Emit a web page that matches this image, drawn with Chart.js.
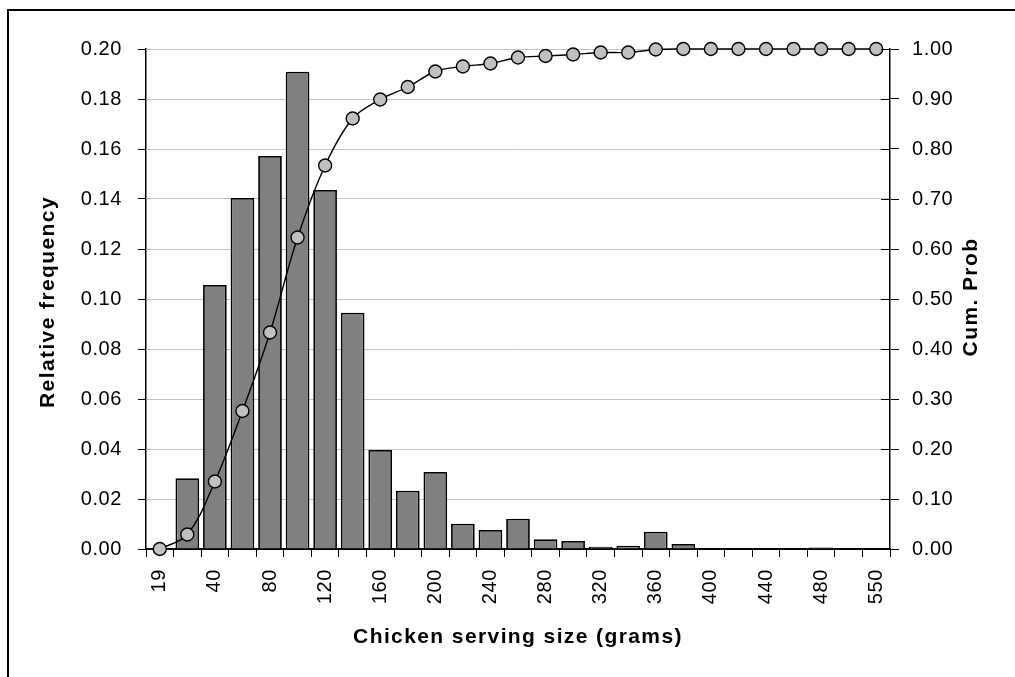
<!DOCTYPE html>
<html>
<head>
<meta charset="utf-8">
<script src="https://cdn.jsdelivr.net/npm/chart.js@4"></script>
<style>
  html, body { margin: 0; padding: 0; background: #fff; }
  canvas { display: block; }
</style>
</head>
<body>
<canvas id="servingChart" width="1015" height="677"></canvas>
<script>
// serving size bins (grams)
const sizes = ["19", "20", "40", "60", "80", "100", "120", "140", "160", "180", "200",
    "220", "240", "260", "280", "300", "320", "340", "360", "380", "400",
    "420", "440", "460", "480", "500", "550"];

// relative frequency per bin (left axis)
const relFreq = [0, 0.0283, 0.1056, 0.1404, 0.1572, 0.1909, 0.1436, 0.0945, 0.0396, 0.0233, 0.0308,
    0.0101, 0.0076, 0.0121, 0.0039, 0.0032, 0.0009, 0.0013, 0.0069, 0.0020, 0,
    0, 0, 0, 0.0006, 0, 0];

// cumulative probability (right axis)
const cumProb = [0, 0.029, 0.135, 0.276, 0.433, 0.623, 0.767, 0.861, 0.899, 0.924, 0.955,
    0.965, 0.971, 0.983, 0.986, 0.989, 0.993, 0.993, 0.999, 1.0, 1.0,
    1.0, 1.0, 1.0, 1.0, 1.0, 1.0];

const xTitle = "Chicken serving size (grams)";
const yTitle = "Relative frequency";
const y1Title = "Cum. Prob";

const FONT = "'Liberation Sans', Arial, sans-serif";

// frame, titles and the inner half of the right axis ticks
const decorations = {
    id: "decorations",
    beforeDraw(chart) {
        const ctx = chart.ctx;
        ctx.save();
        ctx.fillStyle = "#000";
        ctx.fillRect(7, 9, 1015, 2);
        ctx.fillRect(7, 9, 2, 677);
        ctx.restore();
        ctx.letterSpacing = "0.6px";
    },
    afterDraw(chart) {
        const ctx = chart.ctx;
        const area = chart.chartArea;
        const y1 = chart.scales.y1;
        ctx.save();
        ctx.strokeStyle = "#000";
        ctx.lineWidth = 1;
        y1.ticks.forEach((t) => {
            const py = Math.round(y1.getPixelForValue(t.value)) + 0.5;
            ctx.beginPath();
            ctx.moveTo(area.right - 9, py);
            ctx.lineTo(area.right, py);
            ctx.stroke();
        });

        ctx.fillStyle = "#000";
        ctx.font = "bold 21px " + FONT;
        ctx.letterSpacing = "1.4px";
        ctx.textAlign = "center";
        ctx.textBaseline = "alphabetic";
        ctx.fillText(xTitle, (area.left + area.right) / 2, 643);

        const midY = (area.top + area.bottom) / 2;
        ctx.save();
        ctx.translate(54, midY + 3);
        ctx.rotate(-Math.PI / 2);
        ctx.fillText(yTitle, 0, 0);
        ctx.restore();

        ctx.save();
        ctx.translate(977, midY - 2);
        ctx.rotate(-Math.PI / 2);
        ctx.fillText(y1Title, 0, 0);
        ctx.restore();
        ctx.restore();
    }
};

const ctx = document.getElementById("servingChart").getContext("2d");

new Chart(ctx, {
    data: {
        labels: sizes,
        datasets: [
            {
                type: "line",
                label: "Cum. Prob",
                data: cumProb,
                yAxisID: "y1",
                borderColor: "#000",
                borderWidth: 1.4,
                tension: 0.35,
                pointRadius: 6.5,
                pointBackgroundColor: "#c0c0c0",
                pointBorderColor: "#000",
                pointBorderWidth: 1.4,
                clip: false,
                order: 0
            },
            {
                type: "bar",
                label: "Relative frequency",
                data: relFreq,
                yAxisID: "y",
                backgroundColor: "#808080",
                borderColor: "#000",
                borderWidth: 1.8,
                borderSkipped: "start",
                barPercentage: 0.86,
                categoryPercentage: 1,
                order: 1
            }
        ]
    },
    options: {
        responsive: false,
        animation: false,
        devicePixelRatio: 1,
        layout: { padding: { top: 49, left: 0, right: 0, bottom: 0 } },
        plugins: {
            legend: { display: false },
            tooltip: { enabled: false }
        },
        scales: {
            x: {
                type: "category",
                grid: {
                    offset: true,
                    drawOnChartArea: false,
                    tickLength: 8,
                    color: "#000",
                    tickColor: "#000"
                },
                border: { color: "#000", width: 1.5 },
                ticks: {
                    autoSkip: false,
                    maxRotation: 90,
                    minRotation: 90,
                    padding: 12,
                    color: "#000",
                    font: { family: FONT, size: 20 },
                    callback: (v, i) => (i % 2 === 0 ? sizes[i] : "")
                },
                afterFit: (scale) => { scale.height = 677 - 549; }
            },
            y: {
                position: "left",
                min: 0,
                max: 0.2,
                grid: {
                    color: (c) => (c.tick && c.tick.value === 0 ? "#000" : "#c4c4c4"),
                    tickColor: "#000",
                    tickLength: 8
                },
                border: { color: "#000", width: 1.5 },
                ticks: {
                    stepSize: 0.02,
                    padding: 16,
                    color: "#000",
                    font: { family: FONT, size: 20 },
                    callback: (v) => Number(v).toFixed(2)
                },
                afterFit: (scale) => { scale.width = 146; }
            },
            y1: {
                position: "right",
                min: 0,
                max: 1,
                grid: {
                    drawOnChartArea: false,
                    tickColor: "#000",
                    tickLength: 9
                },
                border: { color: "#000", width: 1.5 },
                ticks: {
                    stepSize: 0.1,
                    padding: 13,
                    color: "#000",
                    font: { family: FONT, size: 20 },
                    callback: (v) => Number(v).toFixed(2)
                },
                afterFit: (scale) => { scale.width = 1015 - 890; }
            }
        }
    },
    plugins: [decorations]
});
</script>
</body>
</html>
